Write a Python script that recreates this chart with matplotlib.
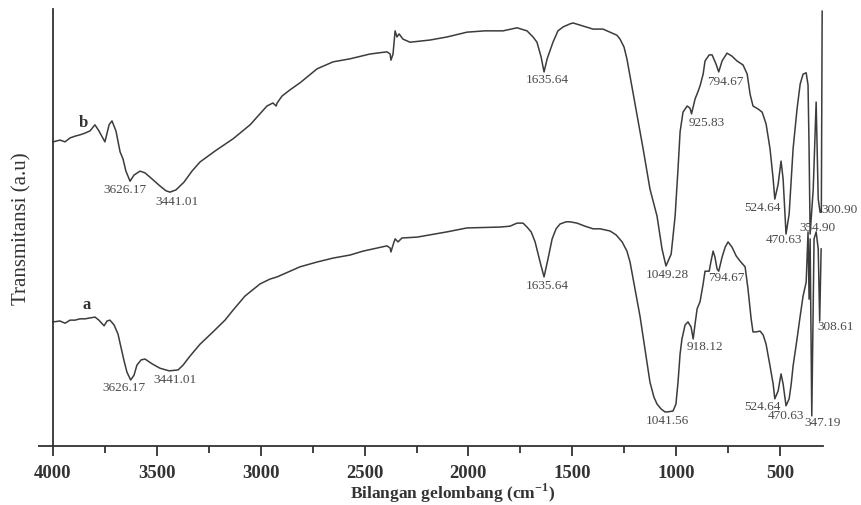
import matplotlib
matplotlib.use("Agg")
import matplotlib.pyplot as plt
from matplotlib.ticker import MultipleLocator

plt.rcParams['font.family'] = ['Liberation Serif', 'DejaVu Serif']
plt.rcParams['mathtext.fontset'] = 'custom'
plt.rcParams['mathtext.rm'] = 'Liberation Serif:bold'
plt.rcParams['mathtext.bf'] = 'Liberation Serif:bold'

# ---- data (wavenumber cm-1, transmittance a.u.) ----
wn_b = [4000, 3966, 3942, 3918, 3894, 3870, 3846, 3822, 3798, 3779, 3750, 3730, 3716, 3697,
        3677, 3663, 3649, 3629, 3610, 3581, 3557, 3523, 3485, 3456, 3437, 3408, 3369, 3331,
        3292, 3220, 3133, 3051, 2970, 2941, 2926, 2921, 2897, 2859, 2811, 2729, 2652, 2570,
        2474, 2392, 2377, 2373, 2363, 2353, 2344, 2334, 2315, 2281, 2185, 2103, 2007, 1920,
        1833, 1766, 1718, 1689, 1670, 1650, 1636, 1621, 1593, 1569, 1544, 1511, 1496, 1448,
        1400, 1352, 1318, 1285, 1270, 1251, 1237, 1198, 1159, 1126, 1092, 1068, 1049, 1024,
        1005, 991, 981, 967, 947, 933, 926, 909, 894, 885, 870, 861, 841, 827, 808, 795,
        779, 755, 731, 707, 678, 658, 644, 630, 605, 586, 567, 548, 533, 525, 509, 495,
        485, 471, 456, 437, 418, 403, 389, 374, 365, 360, 355, 340, 326, 316, 307, 301, 297]
t_b = [69.6, 70.0, 69.6, 70.5, 70.9, 71.2, 71.6, 72.1, 73.5, 72.1, 69.6, 73.5, 74.4, 72.1,
       67.3, 65.7, 62.9, 60.6, 62.0, 62.9, 62.5, 61.1, 59.5, 58.4, 58.1, 58.6, 60.4, 62.9,
       65.0, 67.5, 70.3, 73.5, 77.8, 78.5, 77.8, 78.5, 80.1, 81.5, 83.1, 86.3, 87.9, 88.6,
       89.7, 90.2, 89.7, 88.3, 89.7, 95.0, 93.6, 94.3, 93.1, 92.4, 92.9, 93.6, 94.7, 95.0,
       95.0, 95.7, 95.0, 93.6, 92.4, 89.0, 85.6, 88.6, 92.4, 95.0, 95.9, 96.6, 96.8, 96.1,
       95.4, 95.4, 94.7, 94.0, 93.1, 91.3, 88.6, 78.3, 68.0, 58.8, 52.6, 45.1, 41.2, 43.9,
       52.6, 63.4, 71.9, 76.4, 77.8, 77.3, 76.0, 79.4, 81.2, 82.4, 85.1, 88.1, 89.5, 89.5, 87.4, 85.6,
       88.1, 89.9, 89.2, 88.1, 87.2, 85.1, 80.5, 77.8, 77.1, 76.4, 73.7, 68.0, 61.1, 56.5, 59.9, 65.2,
       61.1, 48.5, 53.1, 68.0, 77.1, 82.8, 85.1, 85.4, 82.6, 68.0, 48.5, 58.8, 78.7, 56.5, 53.5, 53.5, 99.5]

wn_a = [4000, 3966, 3942, 3918, 3894, 3870, 3846, 3822, 3798, 3779, 3754, 3740, 3726, 3706,
        3687, 3673, 3658, 3644, 3626, 3610, 3596, 3576, 3557, 3523, 3485, 3456, 3441, 3398,
        3374, 3340, 3292, 3230, 3172, 3133, 3076, 3003, 2955, 2921, 2859, 2811, 2729, 2652,
        2570, 2507, 2392, 2377, 2373, 2363, 2353, 2339, 2320, 2247, 2103, 2007, 1848, 1800,
        1766, 1737, 1718, 1698, 1679, 1655, 1636, 1617, 1597, 1578, 1559, 1530, 1511, 1477,
        1439, 1400, 1366, 1318, 1289, 1260, 1237, 1222, 1198, 1174, 1150, 1126, 1107, 1092,
        1073, 1054, 1042, 1015, 1001, 991, 981, 972, 957, 943, 928, 918, 909, 899, 885, 870,
        861, 841, 832, 822, 813, 803, 795, 779, 764, 750, 731, 711, 692, 668, 654, 639, 630,
        615, 596, 581, 567, 548, 533, 525, 509, 495, 485, 471, 456, 446, 437, 418, 403, 389,
        374, 370, 365, 360, 355, 347, 336, 326, 316, 309, 302]
t_a = [28.4, 28.6, 28.1, 28.8, 28.8, 29.1, 29.1, 29.3, 29.5, 28.8, 27.5, 28.6, 28.8, 27.7,
       25.6, 22.7, 19.5, 16.9, 15.1, 16.2, 18.5, 19.7, 19.9, 18.8, 17.8, 17.4, 17.2, 17.4,
       18.5, 20.6, 23.3, 26.1, 28.8, 31.1, 34.3, 37.1, 38.2, 38.7, 40.0, 41.0, 42.1, 43.0,
       43.7, 44.6, 45.8, 45.3, 44.4, 46.0, 47.4, 46.7, 47.6, 47.8, 49.0, 49.9, 50.1, 50.3,
       51.0, 51.0, 50.1, 49.0, 46.7, 42.1, 38.7, 42.8, 47.4, 49.7, 50.8, 51.3, 51.3, 51.0,
       50.3, 49.7, 49.7, 49.2, 48.3, 46.7, 44.6, 42.1, 35.9, 29.7, 22.2, 14.6, 11.2, 9.6,
       8.5, 7.8, 7.8, 8.0, 9.6, 14.6, 21.1, 24.5, 27.7, 28.4, 27.2, 24.5, 27.9, 31.4, 33.0, 37.1,
       40.0, 40.0, 42.3, 44.6, 43.2, 40.5, 40.0, 43.2, 45.5, 46.7, 45.5, 43.5, 42.3, 41.0, 35.9, 29.1, 26.1,
       26.1, 26.3, 25.4, 23.3, 18.3, 14.2, 10.8, 12.6, 16.5, 14.2, 9.2, 10.8, 14.2, 18.3, 24.5, 29.7, 34.3,
       37.5, 42.8, 49.0, 33.6, 47.4, 6.9, 47.4, 49.0, 45.1, 28.6, 45.1]

peaks_b = ["3626.17", "3441.01", "1635.64", "1049.28", "925.83", "794.67",
           "524.64", "470.63", "354.90", "300.90"]
peaks_a = ["3626.17", "3441.01", "1635.64", "1041.56", "918.12", "794.67",
           "524.64", "470.63", "347.19", "308.61"]
xticks = [4000, 3500, 3000, 2500, 2000, 1500, 1000, 500]

# label placement (data coords)
pos_b = [(3653, 58.8), (3403, 56.1), (1621, 84.0), (1044, 39.4), (851, 74.1), (764, 83.5),
         (586, 54.7), (480, 47.4), (321, 50.1), (215, 54.2)]
pos_a = [(3658, 13.5), (3413, 15.3), (1621, 36.8), (1044, 5.9), (861, 22.9), (760, 38.7),
         (586, 9.2), (471, 7.1), (297, 5.5), (230, 27.5)]

line_col = '#3c3c3c'
txt_col = '#4a4a4a'

fig = plt.figure(figsize=(8.61, 5.06), dpi=100)
ax = fig.add_axes([53/861, 59/506, 770/861, 437/506])

ax.plot(wn_b, t_b, color=line_col, lw=1.1, clip_on=False)
ax.plot(wn_a, t_a, color=line_col, lw=1.1, clip_on=False)

for s, (x, y) in zip(peaks_b, pos_b):
    ax.text(x, y, s, ha='center', va='center', fontsize=9.5, color=txt_col, clip_on=False)
for s, (x, y) in zip(peaks_a, pos_a):
    ax.text(x, y, s, ha='center', va='center', fontsize=9.5, color=txt_col, clip_on=False)

ax.text(3856, 74.1, 'b', ha='center', va='center', fontsize=12, fontweight='bold', color='#333333')
ax.text(3836, 32.5, 'a', ha='center', va='center', fontsize=12, fontweight='bold', color='#333333')

ax.set_xlim(4000, 293)
ax.set_ylim(0, 100)
ax.set_xticks(xticks)
ax.set_xticklabels([str(v) for v in xticks], fontsize=13.5, fontweight='bold', color='#333333')
ax.xaxis.set_minor_locator(MultipleLocator(250))
ax.tick_params(axis='x', which='major', length=7, width=1.3, direction='out', pad=6, color='#333333')
ax.tick_params(axis='x', which='minor', length=5, width=1.3, direction='out', color='#333333')
ax.set_yticks([0])
ax.set_yticklabels([''])
ax.tick_params(axis='y', length=11, width=1.3, color='#333333')

for side in ['top', 'right']:
    ax.spines[side].set_visible(False)
for side in ['left', 'bottom']:
    ax.spines[side].set_linewidth(1.3)
    ax.spines[side].set_color('#333333')

ax.set_xlabel(r'Bilangan gelombang (cm$^{-1}$)', fontsize=12.5, fontweight='bold', color='#333333')
ax.xaxis.set_label_coords(0.519, -0.080)
ax.set_ylabel('Transmitansi (a.u)', fontsize=15, color='#333333')
ax.yaxis.set_label_coords(-0.028, 0.5)

fig.savefig('out.png', dpi=100)
